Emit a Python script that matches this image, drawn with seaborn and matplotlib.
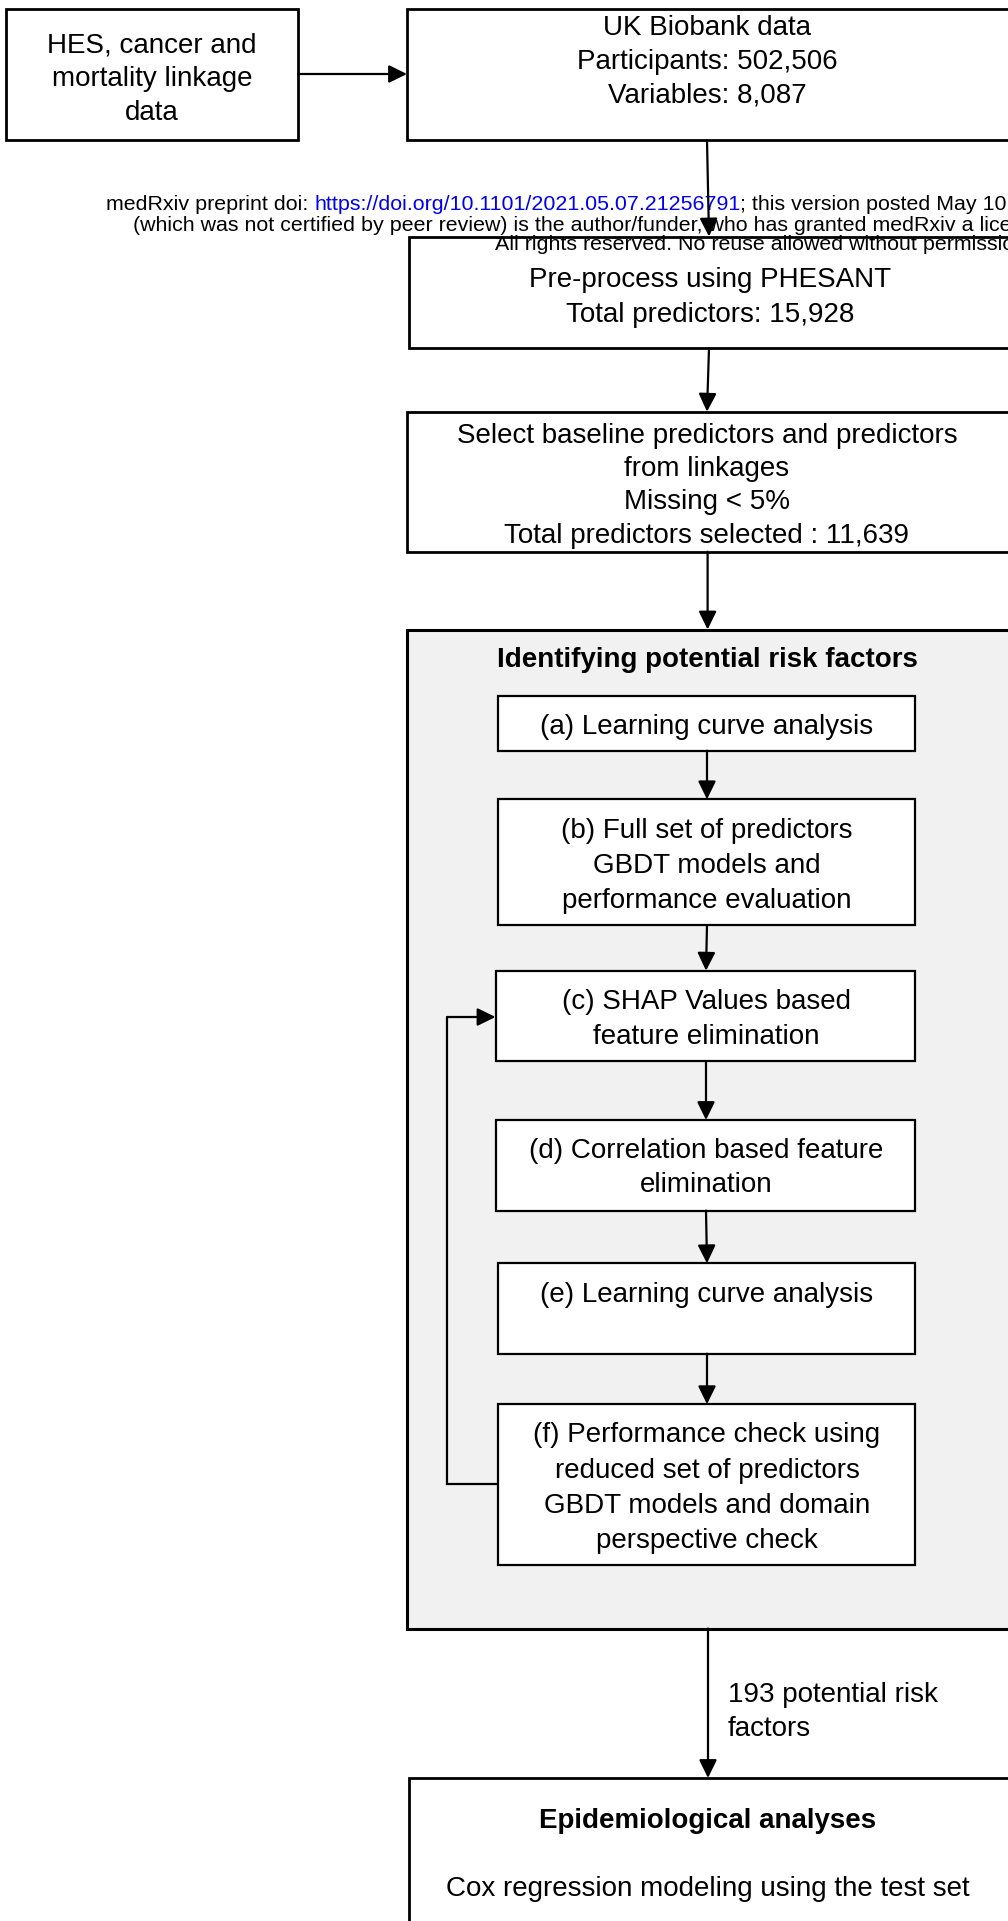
import matplotlib
matplotlib.use("Agg")
import matplotlib.pyplot as plt
import seaborn as sns
from matplotlib.patches import Rectangle

sns.set_theme(style="white")
plt.rcParams['font.family'] = ['Liberation Sans', 'DejaVu Sans']

# ---------------- content (texts / numbers) ----------------
linkage_lines = ["HES, cancer and", "mortality linkage", "data"]
biobank_lines = ["UK Biobank data", "Participants: 502,506", "Variables: 8,087"]
phesant_lines = ["Pre-process using PHESANT", "Total predictors: 15,928"]
select_lines = ["Select baseline predictors and predictors", "from linkages",
                "Missing < 5%", "Total predictors selected : 11,639"]
risk_title = "Identifying potential risk factors"
step_a = ["(a) Learning curve analysis"]
step_b = ["(b) Full set of predictors", "GBDT models and", "performance evaluation"]
step_c = ["(c) SHAP Values based", "feature elimination"]
step_d = ["(d) Correlation based feature", "elimination"]
step_e = ["(e) Learning curve analysis"]
step_f = ["(f) Performance check using", "reduced set of predictors",
          "GBDT models and domain", "perspective check"]
factor_label = ["193 potential risk", "factors"]
epi_title = "Epidemiological analyses"
epi_text = "Cox regression modeling using the test set"
header_l1 = ["medRxiv preprint doi: ", "https://doi.org/10.1101/2021.05.07.21256791",
             "; this version posted May 10, 2021. The copyright holder for this preprint"]
header_l2 = "(which was not certified by peer review) is the author/funder, who has granted medRxiv a license to display the preprint in perpetuity."
header_l3 = "All rights reserved. No reuse allowed without permission."

# ---------------- layout (pixel canvas) ----------------
W, H = 1008, 1921
fig = plt.figure(figsize=(W / 100, H / 100), dpi=100)
ax = fig.add_axes([0, 0, 1, 1])
ax.set_xlim(0, W)
ax.set_ylim(H, 0)
ax.axis("off")

FS = 20          # body font size (pt)
BASE = 10        # baseline offset from visual centre (px)


def box(x0, y0, x1, y1, lw=1.6, fc="white", z=2):
    ax.add_patch(Rectangle((x0, y0), x1 - x0, y1 - y0, fc=fc, ec="black",
                           lw=lw, zorder=z))


def lines(xc, centers, texts, ha="center", weight="normal", fs=FS):
    for yc, t in zip(centers, texts):
        ax.text(xc, yc + BASE, t, ha=ha, va="baseline", fontsize=fs,
                fontweight=weight, color="black", zorder=5)


def arrow(p0, p1):
    ax.annotate("", xy=p1, xytext=p0,
                arrowprops=dict(arrowstyle="-|>,head_length=0.55,head_width=0.27",
                                mutation_scale=20, lw=1.6, color="black",
                                shrinkA=0, shrinkB=0), zorder=6)


RIGHT = 1015

# top boxes
box(6.4, 9, 298, 140, lw=2.0)
lines(152, [42, 76, 110], linkage_lines)
box(407, 9.3, RIGHT, 140.3, lw=2.0)
lines(707, [25, 59, 93], biobank_lines)
arrow((298, 74), (407, 74))

box(408.5, 236.5, RIGHT, 348.3, lw=2.0)
lines(710, [277, 312], phesant_lines)

box(406.5, 411.7, RIGHT, 551.7, lw=2.0)
lines(707, [433, 466, 499, 533], select_lines)

# grey container
box(406.5, 629.5, RIGHT, 1628.5, lw=2.2, fc="#f1f1f1", z=1)
lines(707, [657], [risk_title], weight="bold")

box(498, 696, 915.4, 750.7)
lines(707, [724], step_a)
box(498, 799.3, 915.4, 925.3)
lines(707, [828, 863, 898], step_b)
box(495.5, 970.7, 915.4, 1061.4)
lines(706, [999, 1034], step_c)
box(495.5, 1120, 915.4, 1210.6)
lines(706, [1148, 1182], step_d)
box(498, 1263.3, 915.4, 1353.6)
lines(707, [1292], step_e)
box(498, 1404.2, 915.4, 1565)
lines(707, [1432, 1468, 1503, 1538], step_f)

# bottom box
box(408.8, 1778, RIGHT, 1935, lw=2.0)
lines(708, [1818], [epi_title], weight="bold")
lines(708, [1886], [epi_text])
lines(727.6, [1692, 1726], factor_label, ha="left")

# arrows
arrow((707, 140.3), (709, 236.5))
arrow((709, 348.3), (707, 411.7))
arrow((707.6, 551.7), (707.6, 629.5))
arrow((707, 750.7), (707, 799.3))
arrow((707, 925.3), (706, 970.7))
arrow((706, 1061.4), (706, 1120))
arrow((706, 1210.6), (707, 1263.3))
arrow((707, 1353.6), (707, 1404.2))
arrow((708, 1628.5), (708, 1778))
# feedback loop
ax.plot([498, 447.3, 447.3], [1484, 1484, 1017], color="black", lw=1.6,
        solid_joinstyle="miter", zorder=6)
arrow((447.3, 1017), (495.5, 1017))

# medRxiv header
HFS = 15.4
fig.canvas.draw()
renderer = fig.canvas.get_renderer()
x = 106
for seg, col in zip(header_l1, ["black", "#0000ee", "black"]):
    t = ax.text(x, 210, seg, ha="left", va="baseline", fontsize=HFS, color=col, zorder=4)
    bb = t.get_window_extent(renderer=renderer)
    x = ax.transData.inverted().transform((bb.x1, bb.y0))[0]
ax.text(133, 231, header_l2, ha="left", va="baseline", fontsize=HFS, color="black", zorder=4)
ax.text(495, 250, header_l3, ha="left", va="baseline", fontsize=HFS, color="black", zorder=4)

fig.savefig("out.png", dpi=100, facecolor="white")
